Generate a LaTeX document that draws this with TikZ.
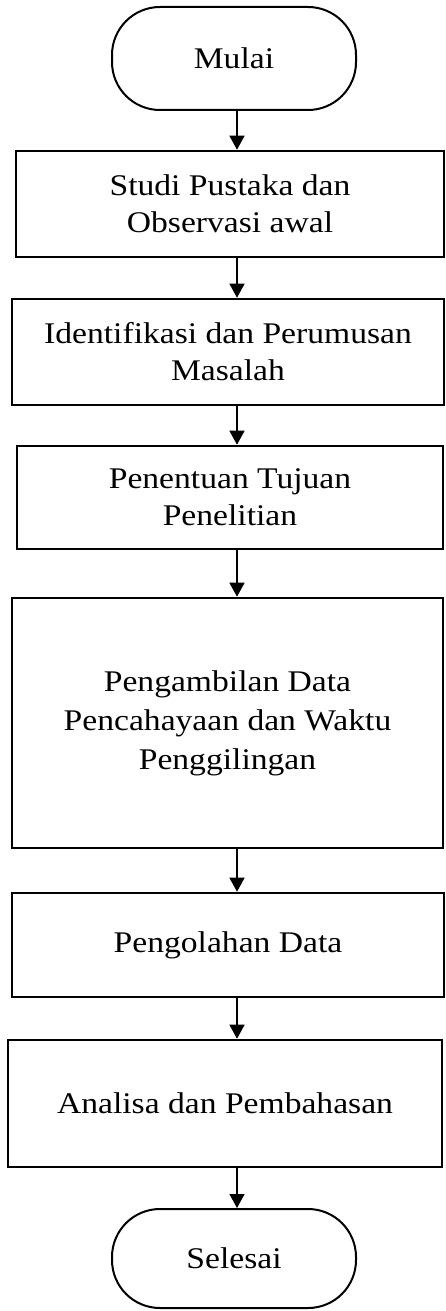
\documentclass[tikz,border=0pt]{standalone}
\usepackage{fontspec}
\setmainfont{Liberation Serif}[FakeStretch=1.12]
\usetikzlibrary{arrows.meta}
\tikzset{
  stepbox/.style={draw=black, line width=2.6pt, fill=white, inner sep=0pt, align=center,
    font=\fontsize{30}{37}\selectfont},
  termbox/.style={draw=black, line width=2pt, rounded corners=48pt, inner sep=0pt, align=center,
    font=\fontsize{30}{37}\selectfont, minimum width=244pt},
  arr/.style={draw=black, line width=1.4pt, -{Triangle[width=15pt,length=14pt]}}
}
\begin{document}
\begin{tikzpicture}[x=1pt,y=-1pt]
\useasboundingbox (0,0) rectangle (445,1311);
\fill[white] (0,0) rectangle (445,1311);
\coordinate (axis) at (237,0);
\node[termbox, minimum height=103pt] (m) at (234,58.5) {Mulai};
\node[stepbox, minimum width=428pt, minimum height=106pt] (b1) at (230,204) {Studi Pustaka dan\\Observasi awal};
\node[stepbox, minimum width=432pt, minimum height=106pt] (b2) at (228,352) {Identifikasi dan Perumusan\\Masalah};
\node[stepbox, minimum width=426pt, minimum height=103pt] (b3) at (230,497.5) {Penentuan Tujuan\\Penelitian};
\node[stepbox, minimum width=431pt, minimum height=250pt, font=\fontsize{30}{39}\selectfont] (b4) at (227.5,723) {Pengambilan Data\\Pencahayaan dan Waktu\\Penggilingan};
\node[stepbox, minimum width=432pt, minimum height=104pt] (b5) at (228,945) {Pengolahan Data};
\node[stepbox, minimum width=434pt, minimum height=127pt] (b6) at (225,1103.5) {Analisa dan Pembahasan};
\node[termbox, minimum height=99pt] (s) at (234,1258.5) {Selesai};
\draw[arr] (m.south -| axis) -- (b1.north -| axis);
\draw[arr] (b1.south -| axis) -- (b2.north -| axis);
\draw[arr] (b2.south -| axis) -- (b3.north -| axis);
\draw[arr] (b3.south -| axis) -- (b4.north -| axis);
\draw[arr] (b4.south -| axis) -- (b5.north -| axis);
\draw[arr] (b5.south -| axis) -- (b6.north -| axis);
\draw[arr] (b6.south -| axis) -- (s.north -| axis);
\end{tikzpicture}
\end{document}
